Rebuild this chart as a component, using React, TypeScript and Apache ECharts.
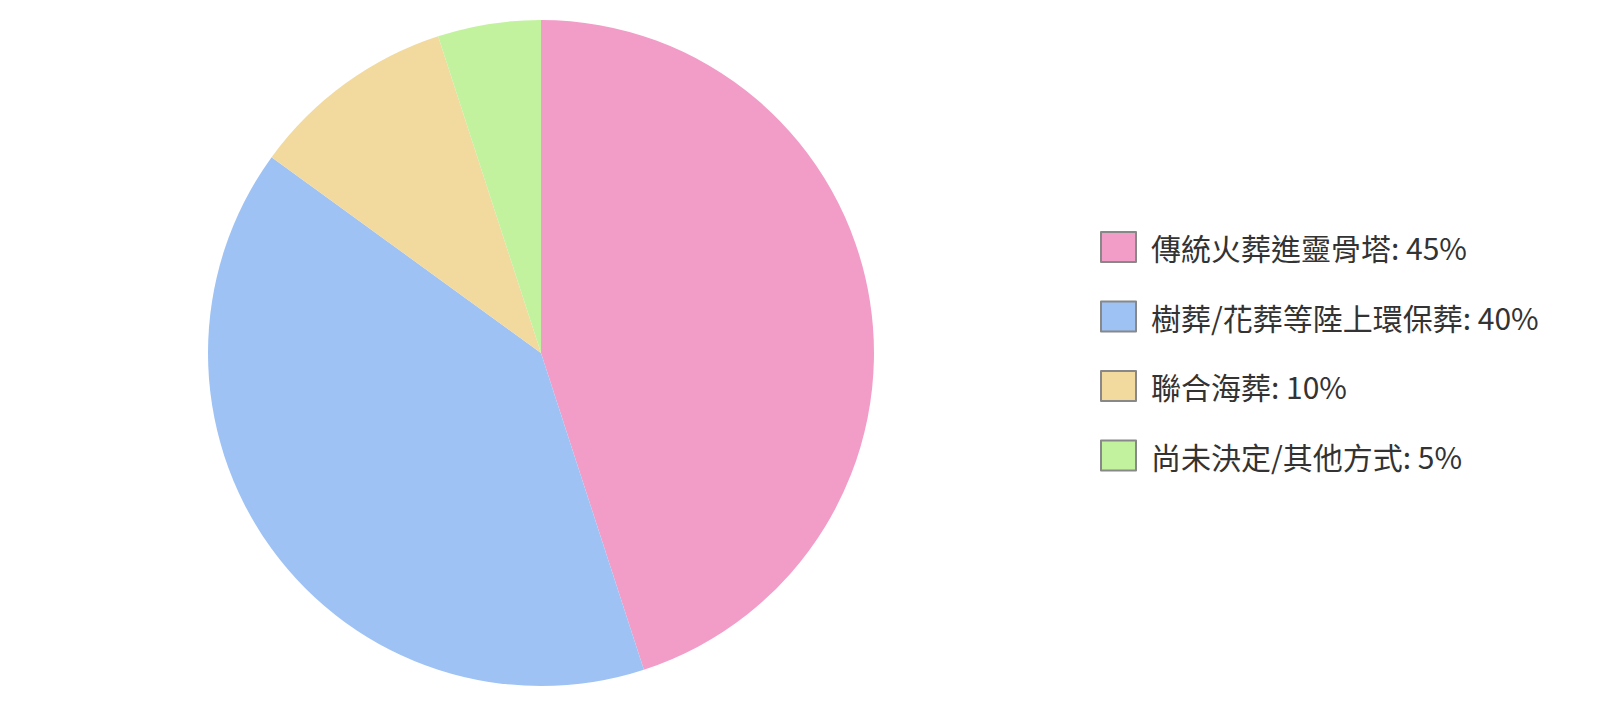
import React, { useEffect, useRef } from "react";
import * as echarts from "echarts";

const categories = ["傳統火葬進靈骨塔", "樹葬/花葬等陸上環保葬", "聯合海葬", "尚未決定/其他方式"];
const values = [45, 40, 10, 5];
const colors = ["#F29DC7", "#9EC2F4", "#F2D99E", "#C2F29E"];

export default function App() {
  const ref = useRef<HTMLDivElement>(null);
  useEffect(() => {
    const chart = echarts.init(ref.current!, null, { renderer: "svg" });
    chart.setOption({
      animation: false,
      color: colors,
      legend: {
        orient: "vertical",
        left: 1087,
        top: 218,
        itemWidth: 35,
        itemHeight: 30,
        itemGap: 37.5,
        icon: "rect",
        itemStyle: { borderColor: "#888", borderWidth: 2 },
        textStyle: {
          fontSize: 30,
          lineHeight: 30,
          color: "#333",
          fontFamily: "Noto Sans CJK TC",
          padding: [0, 0, 0, 10],
        },
        formatter: (name: string) => {
          const i = categories.indexOf(name);
          return `${name}: ${values[i]}%`;
        },
      },
      series: [
        {
          type: "pie",
          center: [533, 345],
          radius: 333,
          startAngle: 90,
          clockwise: true,
          label: { show: false },
          labelLine: { show: false },
          emphasis: { disabled: true },
          itemStyle: { borderWidth: 0 },
          data: categories.map((c, i) => ({ name: c, value: values[i] })),
        },
      ],
    });
    return () => chart.dispose();
  }, []);
  return <div ref={ref} style={{ width: 1584, height: 689 }} />;
}
